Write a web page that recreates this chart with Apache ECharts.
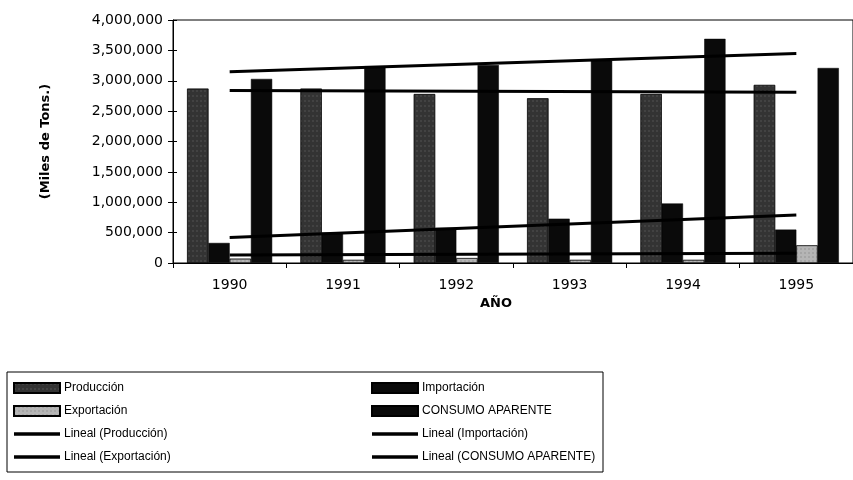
<!DOCTYPE html>
<html>
<head>
<meta charset="utf-8">
<script src="https://cdn.jsdelivr.net/npm/echarts@6/dist/echarts.min.js"></script>
<style>html,body{margin:0;padding:0;background:#fff}#c{width:853px;height:480px}</style>
</head>
<body>
<div id="c"></div>
<script>
// ---- data ----
const years = ['1990', '1991', '1992', '1993', '1994', '1995'];
const produccion  = [2870000, 2870000, 2780000, 2710000, 2780000, 2930000];
const importacion = [330000, 500000, 580000, 730000, 980000, 550000];
const exportacion = [70000, 50000, 80000, 50000, 50000, 290000];
const consumo     = [3030000, 3240000, 3260000, 3330000, 3690000, 3210000];
// trend lines (Lineal): values read at first and last year
const linealProduccion  = [2840000, null, null, null, null, 2810000];
const linealImportacion = [420000, null, null, null, null, 790000];
const linealExportacion = [130000, null, null, null, null, 160000];
const linealConsumo     = [3150000, null, null, null, null, 3450000];
const yTicks = { min: 0, max: 4000000, interval: 500000 };

function commas(v) { return String(v).replace(/\B(?=(\d{3})+(?!\d))/g, ','); }

const chart = echarts.init(document.getElementById('c'), null, { renderer: 'canvas' });
const F = 'DejaVu Sans';
const LF = 'Liberation Sans';
const LINE_ICON = 'path://M0 0H46V3.4H0Z';

const decalDark = { symbol: 'rect', symbolSize: 0.5, dashArrayX: [2, 2], dashArrayY: [2, 3], color: 'rgba(255,255,255,0.3)' };
const decalLight = { symbol: 'rect', symbolSize: 0.5, dashArrayX: [2, 2], dashArrayY: [2, 2], color: 'rgba(0,0,0,0.35)' };

function bar(name, data, color, decal) {
  return { name, type: 'bar', data, barGap: '0%', barCategoryGap: '25%',
    itemStyle: { color, borderColor: '#000', borderWidth: 0.5, decal }, z: 2 };
}
function line(name, data) {
  return { name, type: 'line', data, connectNulls: true, symbol: 'none',
    lineStyle: { color: '#000', width: 3 }, itemStyle: { color: '#000' }, z: 5 };
}
function legendCol(left, names) {
  return {
    left, top: 376, orient: 'vertical', itemGap: 9, itemWidth: 46, itemHeight: 10,
    symbolKeepAspect: true,
    textStyle: { fontFamily: LF, fontSize: 12, color: '#000', lineHeight: 14, padding: [0, 0, 0, -1] },
    data: names.map(n => n.startsWith('Lineal') ? { name: n, icon: LINE_ICON } : { name: n, icon: 'rect' })
  };
}

chart.setOption({
  animation: false,
  backgroundColor: '#fff',
  grid: { left: 173, top: 20, width: 688, height: 243, show: true, borderColor: '#000', borderWidth: 1 },
  xAxis: {
    type: 'category', data: years,
    name: 'AÑO', nameLocation: 'middle', nameGap: 34, nameMoveOverlap: false,
    nameTextStyle: { fontFamily: F, fontWeight: 'bold', fontSize: 13, color: '#000', padding: [0, 34, 0, 0] },
    axisLine: { lineStyle: { color: '#000', width: 1 } },
    axisTick: { show: true, length: 5, lineStyle: { color: '#000' } },
    axisLabel: { fontFamily: F, fontSize: 14, color: '#000', margin: 15 }
  },
  yAxis: [{
    type: 'value', min: yTicks.min, max: yTicks.max, interval: yTicks.interval,
    name: '(Miles de Tons.)', nameLocation: 'middle', nameGap: 121, nameRotate: 90, nameMoveOverlap: false,
    nameTextStyle: { fontFamily: F, fontWeight: 'bold', fontSize: 13, color: '#000' },
    axisLine: { show: true, lineStyle: { color: '#000', width: 1 } },
    axisTick: { show: true, length: 5, lineStyle: { color: '#000' } },
    splitLine: { show: false },
    axisLabel: { fontFamily: F, fontSize: 14, color: '#000', margin: 10, formatter: commas }
  }, {
    type: 'value', position: 'left', min: yTicks.min, max: yTicks.max, interval: yTicks.interval,
    axisLine: { show: false }, axisLabel: { show: false }, splitLine: { show: false },
    axisTick: { show: true, inside: true, length: 4, lineStyle: { color: '#000' } }
  }],
  legend: [
    legendCol(8, ['Producción', 'Exportación', 'Lineal (Producción)', 'Lineal (Exportación)']),
    legendCol(366, ['Importación', 'CONSUMO APARENTE', 'Lineal (Importación)', 'Lineal (CONSUMO APARENTE)'])
  ],
  graphic: [{
    type: 'rect', shape: { x: 7, y: 372, width: 596, height: 100 },
    style: { fill: 'none', stroke: '#000', lineWidth: 1 }, z: -1
  }],
  series: [
    bar('Producción', produccion, '#333333', decalDark),
    bar('Importación', importacion, '#0a0a0a'),
    bar('Exportación', exportacion, '#b5b5b5', decalLight),
    bar('CONSUMO APARENTE', consumo, '#0a0a0a'),
    line('Lineal (Producción)', linealProduccion),
    line('Lineal (Importación)', linealImportacion),
    line('Lineal (Exportación)', linealExportacion),
    line('Lineal (CONSUMO APARENTE)', linealConsumo)
  ]
});
</script>
</body>
</html>
